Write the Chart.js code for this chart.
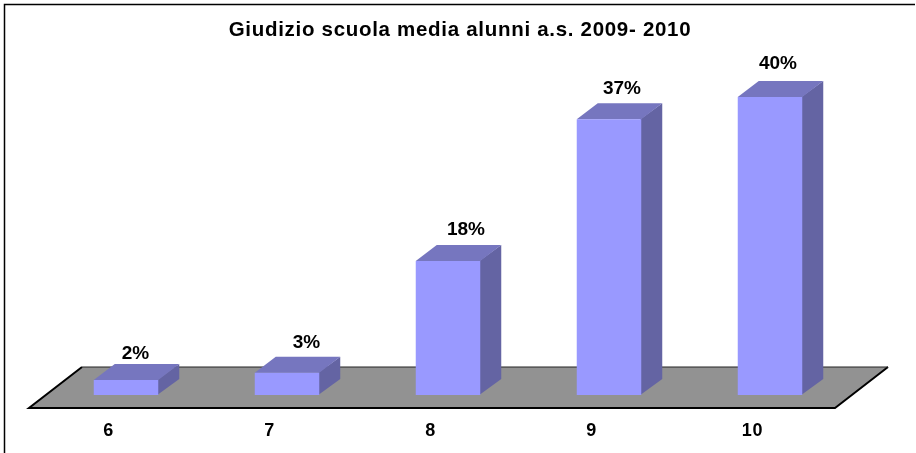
<!DOCTYPE html>
<html>
<head>
<meta charset="utf-8">
<style>html,body{margin:0;padding:0;background:#fff}#w{width:916px;height:453px;position:relative}</style>
<script src="https://cdn.jsdelivr.net/npm/chart.js@4/dist/chart.umd.min.js"></script>
</head>
<body>
<div id="w"><canvas id="c" width="916" height="453"></canvas></div>
<script>
const titleText = 'Giudizio scuola media alunni a.s. 2009- 2010';
const categories = ['6', '7', '8', '9', '10'];
const percentages = [2, 3, 18, 37, 40];
const FRONT = '#9999FF', TOP = '#7676BF', SIDE = '#6464A3', FLOOR = '#929292';
const DX = 21, DY = -16;
const labelShiftX = [9.5, 19.5, 18, 13, 8];
const labelShiftY = [26, 29.5, 31, 30.5, 33];

const poly = (ctx, pts, fill) => {
  ctx.beginPath();
  pts.forEach((p, i) => i ? ctx.lineTo(p[0], p[1]) : ctx.moveTo(p[0], p[1]));
  ctx.closePath();
  ctx.fillStyle = fill;
  ctx.fill();
};

const scene = {
  id: 'scene',
  beforeDraw(chart) {
    const ctx = chart.ctx;
    ctx.save();
    ctx.strokeStyle = '#000';
    ctx.lineWidth = 1.5;
    ctx.beginPath();
    ctx.moveTo(4.5, 453);
    ctx.lineTo(4.5, 4.5);
    ctx.lineTo(915, 4.5);
    ctx.stroke();
    ctx.restore();
    ctx.letterSpacing = '0.7px';
  },
  beforeDatasetsDraw(chart) {
    const ctx = chart.ctx;
    ctx.letterSpacing = '0px';
    const a = chart.chartArea;
    const base = chart.scales.y.getPixelForValue(0);
    const l = a.left - 16.5, r = a.right - 15.5;
    ctx.save();
    poly(ctx, [[l, base + 13], [r, base + 13], [r + 53, base - 28], [l + 53, base - 28]], FLOOR);
    ctx.strokeStyle = '#000';
    ctx.lineWidth = 2;
    ctx.beginPath();
    ctx.moveTo(l + 53, base - 28); ctx.lineTo(l, base + 13); ctx.lineTo(r, base + 13); ctx.lineTo(r + 53, base - 28);
    ctx.stroke();
    ctx.lineWidth = 1;
    ctx.strokeStyle = '#222';
    ctx.beginPath();
    ctx.moveTo(l + 53, base - 28); ctx.lineTo(r + 53, base - 28);
    ctx.stroke();
    chart.getDatasetMeta(0).data.forEach(b => {
      const x0 = b.x - b.width / 2, x1 = b.x + b.width / 2;
      poly(ctx, [[x1 - 1, b.y], [x1 + DX, b.y + DY], [x1 + DX, b.base + DY], [x1 - 1, b.base]], SIDE);
      poly(ctx, [[x0, b.y], [x1, b.y], [x1 + DX, b.y + DY], [x0 + DX, b.y + DY]], TOP);
    });
    ctx.restore();
  },
  afterDatasetsDraw(chart) {
    const ctx = chart.ctx;
    ctx.save();
    ctx.fillStyle = '#000';
    ctx.font = 'bold 19px "Liberation Sans", Arial, sans-serif';
    ctx.textAlign = 'center';
    ctx.textBaseline = 'middle';
    chart.getDatasetMeta(0).data.forEach((b, i) => {
      ctx.fillText(percentages[i] + '%', b.x + labelShiftX[i], b.y - labelShiftY[i]);
    });
    ctx.restore();
  }
};

const fixedWidth = w => s => { s.width = w; };

new Chart(document.getElementById('c'), {
  type: 'bar',
  data: {
    labels: categories,
    datasets: [{
      data: percentages,
      backgroundColor: FRONT,
      borderWidth: 0,
      barPercentage: 64.5 / 161,
      categoryPercentage: 1
    }]
  },
  options: {
    responsive: false,
    animation: false,
    layout: { padding: { left: 4, right: 0, top: 0, bottom: 0 } },
    plugins: {
      legend: { display: false },
      tooltip: { enabled: false },
      title: {
        display: true,
        text: titleText,
        color: '#000',
        font: { family: '"Liberation Sans", Arial, sans-serif', size: 20.5, weight: 'bold', lineHeight: 1.2 },
        padding: { top: 18.5, bottom: 0 }
      }
    },
    scales: {
      x: {
        grid: { display: false, drawTicks: false },
        border: { display: false },
        afterFit: s => { s.height = 58; },
        ticks: {
          color: '#000',
          padding: 25,
          labelOffset: -17.5,
          maxRotation: 0,
          font: { family: '"Liberation Sans", Arial, sans-serif', size: 18, weight: 'bold' }
        }
      },
      y: {
        min: 0,
        max: 47.23,
        position: 'left',
        grid: { display: false },
        border: { display: false },
        ticks: { display: false },
        afterFit: fixedWidth(41.5)
      },
      y2: {
        min: 0,
        max: 47.23,
        position: 'right',
        grid: { display: false },
        border: { display: false },
        ticks: { display: false },
        afterFit: fixedWidth(65.5)
      }
    }
  },
  plugins: [scene]
});
</script>
</body>
</html>
